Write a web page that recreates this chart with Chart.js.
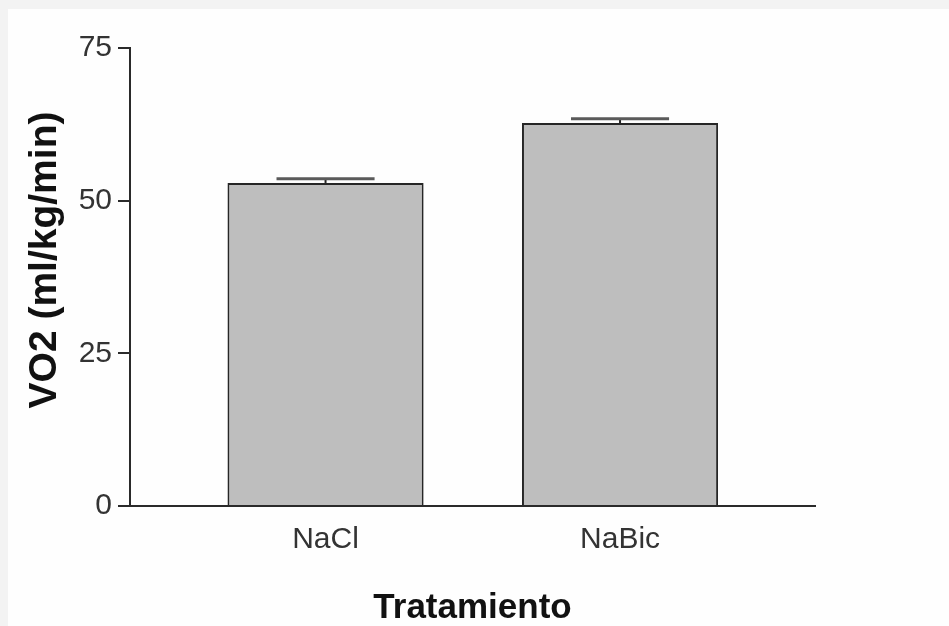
<!DOCTYPE html>
<html lang="es">
<head>
<meta charset="utf-8">
<title>VO2 por tratamiento</title>
<script src="https://cdn.jsdelivr.net/npm/chart.js@4.4.1/dist/chart.umd.min.js"></script>
<style>
    body { margin: 0; background: #f3f3f3; }
    #wrap { position: absolute; left: 8px; top: 9px; width: 941px; height: 617px; background: #fefefe; }
</style>
</head>
<body>
<div id="wrap">
    <canvas id="vo2Chart" width="941" height="617"></canvas>
</div>
<script>
// Datos
const categorias = ["NaCl", "NaBic"];
const valores = [52.9, 62.7];
const errores = [0.7, 0.7];
const ticksY = [0, 25, 50, 75];

const tituloY = "VO2 (ml/kg/min)";
const tituloX = "Tratamiento";

// Plugin para las barras de error (solo hacia arriba)
const barrasError = {
    id: "barrasError",
    afterDatasetsDraw(chart) {
        const ctx = chart.ctx;
        const yScale = chart.scales.y;
        const meta = chart.getDatasetMeta(0);
        ctx.save();
        meta.data.forEach((bar, i) => {
            const yTop = yScale.getPixelForValue(valores[i] + errores[i]);
            const yBar = yScale.getPixelForValue(valores[i]);
            const half = bar.width * 0.25;
            ctx.strokeStyle = "#222";
            ctx.lineWidth = 2;
            ctx.beginPath();
            ctx.moveTo(bar.x, yBar);
            ctx.lineTo(bar.x, yTop);
            ctx.stroke();
            ctx.strokeStyle = "#5a5a5a";
            ctx.lineWidth = 3;
            ctx.beginPath();
            ctx.moveTo(bar.x - half, yTop);
            ctx.lineTo(bar.x + half, yTop);
            ctx.stroke();
        });
        ctx.restore();
    }
};

// Titulo del eje Y dibujado a mano (un poco por encima del centro, como el original)
const tituloEjeY = {
    id: "tituloEjeY",
    afterDraw(chart) {
        const ctx = chart.ctx;
        ctx.save();
        ctx.translate(37, 251);
        ctx.rotate(-Math.PI / 2);
        ctx.font = "bold 39px 'Liberation Sans', Arial, sans-serif";
        ctx.fillStyle = "#111";
        ctx.textAlign = "center";
        ctx.textBaseline = "middle";
        ctx.fillText(tituloY, 0, 0);
        ctx.restore();
    }
};

const ctx = document.getElementById("vo2Chart").getContext("2d");

new Chart(ctx, {
    type: "bar",
    data: {
        datasets: [{
            data: valores.map((v, i) => ({ x: i + 1, y: v })),
            backgroundColor: "#bebebe",
            borderColor: "#262626",
            borderWidth: 2,
            borderSkipped: "bottom",
            barPercentage: 0.666,
            categoryPercentage: 1
        }]
    },
    options: {
        responsive: false,
        animation: false,
        layout: { padding: { top: 39, right: 134, left: 0, bottom: 0 } },
        plugins: {
            legend: { display: false },
            tooltip: { enabled: false }
        },
        scales: {
            x: {
                type: "linear",
                min: 0.336,
                max: 2.662,
                offset: false,
                afterBuildTicks: scale => {
                    scale.ticks = categorias.map((c, i) => ({ value: i + 1 }));
                },
                afterFit: scale => { scale.height = 120; },
                ticks: {
                    autoSkip: false,
                    padding: 16,
                    color: "#333",
                    font: { family: "'Liberation Sans', Arial, sans-serif", size: 30 },
                    callback: value => categorias[value - 1]
                },
                grid: { display: true, drawOnChartArea: false, drawTicks: false, offset: false },
                border: { display: true, color: "#2a2a2a", width: 2 },
                title: {
                    display: true,
                    text: tituloX,
                    color: "#111",
                    padding: { top: 0, bottom: 0 },
                    font: { family: "'Liberation Sans', Arial, sans-serif", size: 35, weight: "bold", lineHeight: 1 }
                }
            },
            y: {
                min: 0,
                max: 75,
                afterBuildTicks: scale => {
                    scale.ticks = ticksY.map(v => ({ value: v }));
                },
                afterFit: scale => { scale.width = 122; },
                ticks: {
                    padding: 6,
                    color: "#333",
                    font: { family: "'Liberation Sans', Arial, sans-serif", size: 30 }
                },
                grid: { drawOnChartArea: false, drawTicks: true, tickLength: 12, color: "#2a2a2a", lineWidth: 2 },
                border: { display: true, color: "#2a2a2a", width: 2 }
            }
        }
    },
    plugins: [barrasError, tituloEjeY]
});
</script>
</body>
</html>
